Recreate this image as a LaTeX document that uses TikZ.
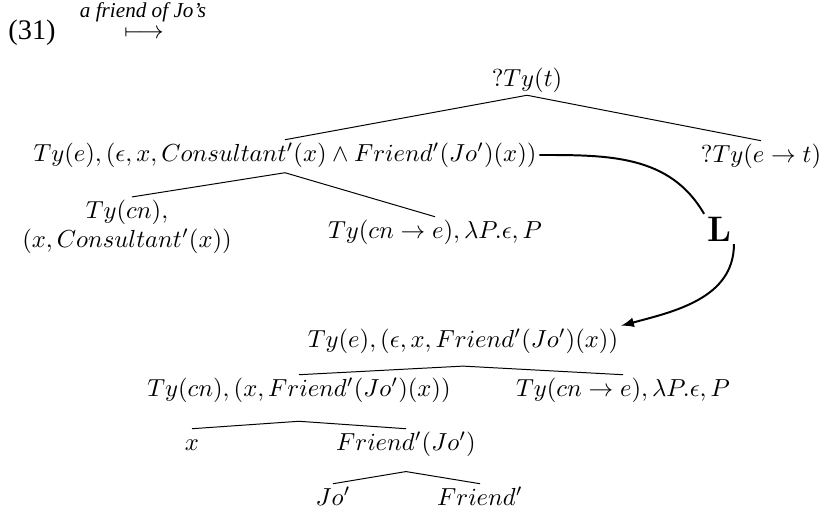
\documentclass[tikz,border=0pt]{standalone}
\usepackage[no-math]{fontspec}
\setmainfont{Liberation Serif}
\usepackage{amsmath}
\usepackage{amssymb}

\begin{document}
\begin{tikzpicture}[
    x=0.406pt, y=-0.406pt,
    every node/.style={inner sep=1pt, align=center},
    tnode/.style={text height=7.5pt, text depth=2.5pt},
    edge/.style={line width=0.4pt}
]
\useasboundingbox (0,0) rectangle (822,511);

\node (ex) at (32,33) {\fontsize{11.5}{14}\selectfont (31)};
\node[inner sep=0pt] (lab) at (143,12) {\fontsize{8.6}{10}\selectfont\itshape a friend of Jo's};
\node[inner sep=0pt] (map) at (144,34) {$\longmapsto$};

\node[tnode] (root) at (527,80) {$?Ty(t)$};
\node[tnode] (lf) at (285,155) {$Ty(e), (\epsilon, x, Consultant'(x) \wedge Friend'(Jo')(x))$};
\node[tnode] (pred) at (761,156) {$?Ty(e \rightarrow t)$};
\node (cn) at (127,227) {$Ty(cn),$\\$(x, Consultant'(x))$};
\node[tnode] (det) at (435,232) {$Ty(cn \rightarrow e), \lambda P.\epsilon, P$};

\node (L) at (719,229) {\Large$\mathbf{L}$};

\node[tnode] (fr) at (463,341) {$Ty(e), (\epsilon, x, Friend'(Jo')(x))$};
\node[tnode] (frcn) at (299,390) {$Ty(cn), (x, Friend'(Jo')(x))$};
\node[tnode] (frdet) at (623,390) {$Ty(cn \rightarrow e), \lambda P.\epsilon, P$};
\node[tnode] (x) at (192,444) {$x$};
\node[tnode] (fj) at (406,444) {$Friend'(Jo')$};
\node[tnode] (jo) at (333,499) {$Jo'$};
\node[tnode] (f) at (480,499) {$Friend'$};

\draw[edge] (root.south) -- (lf.north);
\draw[edge] (root.south) -- (pred.north);
\draw[edge] ([yshift=-1pt]lf.south) -- ([xshift=2pt]cn.north);
\draw[edge] ([yshift=-1pt]lf.south) -- (det.north);
\draw[edge] ([yshift=-4pt]fr.south) -- (frcn.north);
\draw[edge] ([yshift=-4pt]fr.south) -- (frdet.north);
\draw[edge] ([yshift=-6.5pt]frcn.south) -- (x.north);
\draw[edge] ([yshift=-6.5pt]frcn.south) -- (fj.north);
\draw[edge] ([yshift=-5pt]fj.south) -- (jo.north);
\draw[edge] ([yshift=-5pt]fj.south) -- (f.north);

\draw[thick] (lf.east) to[out=0, in=120] (L.north west);
\draw[thick, -latex] (L.south east) to[out=-90, in=15] (fr.north east);
\end{tikzpicture}
\end{document}
